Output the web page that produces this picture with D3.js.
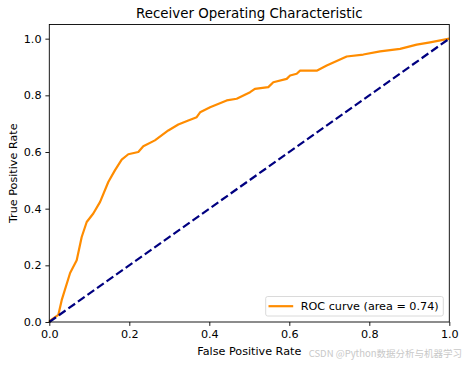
<!DOCTYPE html>
<html>
<head>
<meta charset="utf-8">
<script src="https://cdn.jsdelivr.net/npm/d3@7"></script>
<style>
  body { margin: 0; background: #fff; }
  svg { display: block; font-family: "DejaVu Sans", sans-serif; }
</style>
</head>
<body>
<svg id="svg"></svg>
<script>
// ROC curve
var fpr = [0, 0.002, 0.0225, 0.031, 0.052, 0.0685, 0.081, 0.0935, 0.110, 0.127,
  0.1475, 0.164, 0.181, 0.1975, 0.2225, 0.235, 0.264, 0.2975, 0.3225, 0.3475,
  0.3685, 0.377, 0.402, 0.4435, 0.4685, 0.502, 0.514, 0.5475, 0.56, 0.5935,
  0.602, 0.6185, 0.627, 0.6685, 0.6935, 0.7435, 0.785, 0.827, 0.877, 0.9185,
  0.952, 1];
var tpr = [0, 0.005, 0.025, 0.077, 0.173, 0.218, 0.300, 0.353, 0.383, 0.424,
  0.494, 0.535, 0.573, 0.592, 0.600, 0.620, 0.641, 0.676, 0.697, 0.711,
  0.723, 0.740, 0.758, 0.782, 0.788, 0.811, 0.823, 0.829, 0.846, 0.858,
  0.870, 0.876, 0.887, 0.887, 0.905, 0.937, 0.944, 0.955, 0.964, 0.979,
  0.987, 1];
var chanceLine = [[0, 0], [1, 1]];
var rocAuc = 0.74;
var xTicks = [0, 0.2, 0.4, 0.6, 0.8, 1.0];
var yTicks = [0, 0.2, 0.4, 0.6, 0.8, 1.0];

var width = 466, height = 365;
var margin = {left: 49.3, right: 16.7, top: 24.5, bottom: 43};
var fontSize = 11.2, titleSize = 13.4;

var svg = d3.select("#svg")
    .attr("width", width)
    .attr("height", height);

var x = d3.scaleLinear().domain([0, 1]).range([margin.left, width - margin.right]);
var y = d3.scaleLinear().domain([0, 1.05]).range([height - margin.bottom, margin.top]);

var line = d3.line()
    .x(function(d) { return x(d[0]); })
    .y(function(d) { return y(d[1]); });

var roc = fpr.map(function(f, i) { return [f, tpr[i]]; });

svg.append("rect")
    .attr("width", width)
    .attr("height", height)
    .attr("fill", "#fff");

// curves
svg.append("path")
    .datum(roc)
    .attr("d", line)
    .attr("fill", "none")
    .attr("stroke", "darkorange")
    .attr("stroke-width", 2.2)
    .attr("stroke-linejoin", "round");

svg.append("path")
    .datum(chanceLine)
    .attr("d", line)
    .attr("fill", "none")
    .attr("stroke", "navy")
    .attr("stroke-width", 2.2)
    .attr("stroke-dasharray", "8.2,3.5");

// axes
svg.append("g")
    .attr("transform", "translate(0," + y(0) + ")")
    .call(d3.axisBottom(x).tickValues(xTicks).tickFormat(d3.format(".1f")).tickSizeOuter(0).tickSize(3.9).tickPadding(3.9));

svg.append("g")
    .attr("transform", "translate(" + x(0) + ",0)")
    .call(d3.axisLeft(y).tickValues(yTicks).tickFormat(d3.format(".1f")).tickSizeOuter(0).tickSize(3.9).tickPadding(3.9));

svg.selectAll(".domain").remove();
svg.selectAll(".tick text")
    .attr("font-size", fontSize)
    .attr("font-family", "DejaVu Sans")
    .attr("fill", "#000");
svg.selectAll(".tick line").attr("stroke", "#000").attr("stroke-width", 0.9);

// frame
svg.append("rect")
    .attr("x", x(0))
    .attr("y", y(1.05))
    .attr("width", x(1) - x(0))
    .attr("height", y(0) - y(1.05))
    .attr("fill", "none")
    .attr("stroke", "#000")
    .attr("stroke-width", 0.9);

// labels
svg.append("text")
    .attr("x", (x(0) + x(1)) / 2)
    .attr("y", 18)
    .attr("text-anchor", "middle")
    .attr("font-size", titleSize)
    .text("Receiver Operating Characteristic");

svg.append("text")
    .attr("x", (x(0) + x(1)) / 2)
    .attr("y", 354.5)
    .attr("text-anchor", "middle")
    .attr("font-size", fontSize)
    .text("False Positive Rate");

svg.append("text")
    .attr("transform", "translate(17," + (y(0) + y(1.05)) / 2 + ") rotate(-90)")
    .attr("text-anchor", "middle")
    .attr("font-size", fontSize)
    .text("True Positive Rate");

// legend
var legend = svg.append("g").attr("transform", "translate(265.7,296.5)");
legend.append("rect")
    .attr("width", 177.6)
    .attr("height", 19.5)
    .attr("rx", 2)
    .attr("fill", "#fff")
    .attr("fill-opacity", 0.8)
    .attr("stroke", "#d0d0d0")
    .attr("stroke-width", 0.8);
legend.append("line")
    .attr("x1", 2.8).attr("x2", 27.5)
    .attr("y1", 9.7).attr("y2", 9.7)
    .attr("stroke", "darkorange")
    .attr("stroke-width", 2.2);
legend.append("text")
    .attr("x", 35)
    .attr("y", 13.8)
    .attr("font-size", fontSize)
    .text("ROC curve (area = " + rocAuc.toFixed(2) + ")");

// watermark
svg.append("text")
    .attr("x", 462)
    .attr("y", 357)
    .attr("text-anchor", "end")
    .attr("font-size", 9.5)
    .attr("font-family", "'Noto Sans CJK SC', sans-serif")
    .attr("fill", "#c8c8c8")
    .text("CSDN @Python数据分析与机器学习");
</script>
</body>
</html>
